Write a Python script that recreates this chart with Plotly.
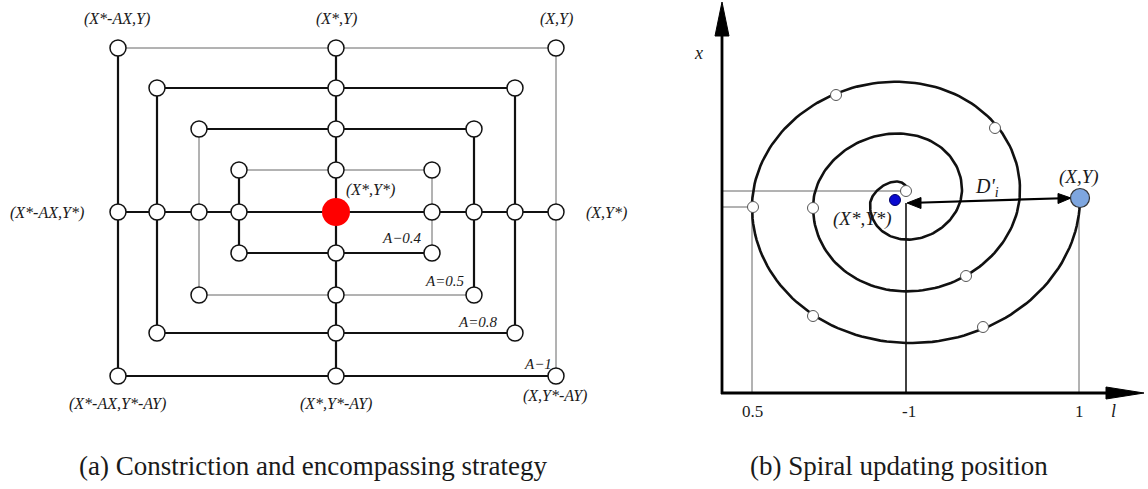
import numpy as np
import plotly.graph_objects as go

W, H = 1148, 489
FONT = "Liberation Serif, Times New Roman, DejaVu Serif, serif"

# ---------------- left panel data (pixel layout units) ----------------
center_x = 336
center_y = 212
rect_left = [118, 157, 199, 239]
rect_right = [556, 515, 474, 432]
rect_top = [48, 88, 129, 170]
rect_bottom = [376, 333, 295, 253]
# edge weights: (top, left, right, bottom); True = thick
rect_thick = [
    (False, True, False, True),
    (True, True, True, True),
    (True, False, True, False),
    (False, True, False, True),
]
level_labels = ["A\u22121", "A=0.8", "A=0.5", "A\u22120.4"]
level_label_x = [538, 478, 445, 402]
level_label_y = [364, 322, 281, 238]

corner_labels = ["(X*-AX,Y)", "(X*,Y)", "(X,Y)",
                 "(X*-AX,Y*)", "(X,Y*)",
                 "(X*-AX,Y*-AY)", "(X*,Y*-AY)", "(X,Y*-AY)", "(X*,Y*)"]
corner_label_x = [117, 336, 556, 47, 606, 117, 336, 555, 370]
corner_label_y = [19, 19, 19, 213, 213, 404, 404, 396, 190]

# ---------------- right panel data ----------------
axis_origin = (722, 393)
axis_x_end = 1110
axis_y_end = 34
tick_labels = ["0.5", "-1", "1"]
tick_x = [752, 909, 1079]
tick_y = 411

# spiral: alternating half-turn end points and their extreme (bottom/top) y
spiral_x = [1080, 752, 1020, 813, 962, 870, 907]
spiral_y = [198, 207, 190, 207, 190, 205, 191]
spiral_extreme = [343, 82, 291, 134, 239, 183]

spiral_pts_x = [836, 995, 753, 813, 906, 966, 813, 983]
spiral_pts_y = [95, 128, 207, 208, 191, 276, 316, 327]

best_x, best_y = 895, 200
cur_x, cur_y = 1080, 198

fig = go.Figure()


def seg(xs, ys, width, color):
    fig.add_trace(go.Scatter(x=xs, y=ys, mode="lines",
                             line=dict(color=color, width=width),
                             hoverinfo="skip", showlegend=False))


THICK, THIN = 2.2, 1.0
DARK, GREY = "#111111", "#666666"

# rectangles
for l, r, t, b, th in zip(rect_left, rect_right, rect_top, rect_bottom, rect_thick):
    edges = [([l, r], [t, t]), ([l, l], [t, b]), ([r, r], [t, b]), ([l, r], [b, b])]
    for (ex, ey), k in zip(edges, th):
        seg(ex, ey, THICK if k else THIN, DARK if k else GREY)

# central cross
seg([center_x, center_x], [rect_top[0], rect_bottom[0]], THICK, DARK)
seg([rect_left[0], rect_right[0]], [center_y, center_y], THICK, DARK)

# node markers
node_x, node_y = [], []
for l, r, t, b in zip(rect_left, rect_right, rect_top, rect_bottom):
    node_x += [l, center_x, r, l, center_x, r, l, r]
    node_y += [t, t, t, b, b, b, center_y, center_y]
fig.add_trace(go.Scatter(x=node_x, y=node_y, mode="markers",
                         marker=dict(size=16, color="white",
                                     line=dict(color="#111111", width=1.5)),
                         hoverinfo="skip", showlegend=False))
fig.add_trace(go.Scatter(x=[center_x], y=[center_y], mode="markers",
                         marker=dict(size=28, color="#ff0000",
                                     line=dict(color="#ff0000", width=0)),
                         hoverinfo="skip", showlegend=False))

# ---------------- right panel ----------------
ox, oy = axis_origin
# guide lines
seg([ox, 906], [191, 191], THIN, GREY)
seg([ox, 752], [207, 207], THIN, GREY)
seg([752, 752], [oy, 207], THIN, GREY)
seg([906, 906], [oy, 203], 1.6, DARK)
seg([1079, 1079], [oy, 205], THIN, GREY)

# axes
seg([ox, ox], [oy + 1, axis_y_end], 2.8, "black")
seg([ox - 1, axis_x_end], [oy, oy], 2.8, "black")
fig.add_trace(go.Scatter(x=[ox - 7, ox, ox + 7, ox - 7], y=[36, 2, 36, 36],
                         mode="lines", fill="toself", fillcolor="black",
                         line=dict(color="black", width=1),
                         hoverinfo="skip", showlegend=False))
fig.add_trace(go.Scatter(x=[1106, 1144, 1106, 1106], y=[oy - 6, oy, oy + 6, oy - 6],
                         mode="lines", fill="toself", fillcolor="black",
                         line=dict(color="black", width=1),
                         hoverinfo="skip", showlegend=False))

# spiral built from half-turns
sx, sy = [], []
t = np.linspace(0, np.pi, 80)
for i in range(len(spiral_extreme)):
    x0, y0 = spiral_x[i], spiral_y[i]
    x1, y1 = spiral_x[i + 1], spiral_y[i + 1]
    f = (1 - np.cos(t)) / 2
    xm = x0 + (x1 - x0) * f
    ymid = y0 + (y1 - y0) * f
    amp = spiral_extreme[i] - (y0 + y1) / 2
    sx += list(xm)
    sy += list(ymid + amp * np.sin(t))
fig.add_trace(go.Scatter(x=sx, y=sy, mode="lines",
                         line=dict(color="#111111", width=2.6),
                         hoverinfo="skip", showlegend=False))

fig.add_trace(go.Scatter(x=spiral_pts_x, y=spiral_pts_y, mode="markers",
                         marker=dict(size=11, color="white",
                                     line=dict(color="#555555", width=1)),
                         hoverinfo="skip", showlegend=False))

# D'_i double arrow (line + two arrow heads)
seg([908, 1071], [203, 198], 2.2, "black")
fig.add_trace(go.Scatter(x=[1058, 1071, 1058, 1058], y=[193.5, 198, 203.5, 193.5],
                         mode="lines", fill="toself", fillcolor="black",
                         line=dict(color="black", width=1),
                         hoverinfo="skip", showlegend=False))
fig.add_trace(go.Scatter(x=[921, 907, 921, 921], y=[197.5, 203, 208.5, 197.5],
                         mode="lines", fill="toself", fillcolor="black",
                         line=dict(color="black", width=1),
                         hoverinfo="skip", showlegend=False))

fig.add_trace(go.Scatter(x=[best_x], y=[best_y], mode="markers",
                         marker=dict(size=11, color="#0a0ad0",
                                     line=dict(color="#000066", width=1)),
                         hoverinfo="skip", showlegend=False))
fig.add_trace(go.Scatter(x=[cur_x], y=[cur_y], mode="markers",
                         marker=dict(size=19, color="#7ea6df",
                                     line=dict(color="#333333", width=1.2)),
                         hoverinfo="skip", showlegend=False))

# ---------------- text ----------------
def txt(x, y, s, size, italic=True, xanchor="center"):
    fig.add_annotation(x=x, y=y, xref="x", yref="y", text=s, showarrow=False,
                       xanchor=xanchor, yanchor="middle",
                       font=dict(family=FONT, size=size, color="#1a1a1a",
                                 style="italic" if italic else "normal"))

for s, x, y in zip(corner_labels, corner_label_x, corner_label_y):
    txt(x, y, s, 16)
for s, x, y in zip(level_labels, level_label_x, level_label_y):
    txt(x, y, s, 15)

txt(698, 53, "x", 18)
txt(1113, 411, "l", 18)
for s, x in zip(tick_labels, tick_x):
    txt(x, tick_y, s, 17, italic=False)
txt(1079, 177, "(X,Y)", 19)
txt(862, 219, "(X*,Y*)", 19)
txt(987, 187, "D'<sub>i</sub>", 20)

txt(313, 466, "(a) Constriction and encompassing strategy", 27, italic=False)
txt(899, 466, "(b) Spiral updating position", 27, italic=False)

fig.update_xaxes(range=[0, W], visible=False, fixedrange=True)
fig.update_yaxes(range=[H, 0], visible=False, fixedrange=True)
fig.update_layout(width=W, height=H, margin=dict(l=0, r=0, t=0, b=0),
                  paper_bgcolor="white", plot_bgcolor="white", showlegend=False)

fig.write_html("out.html")
